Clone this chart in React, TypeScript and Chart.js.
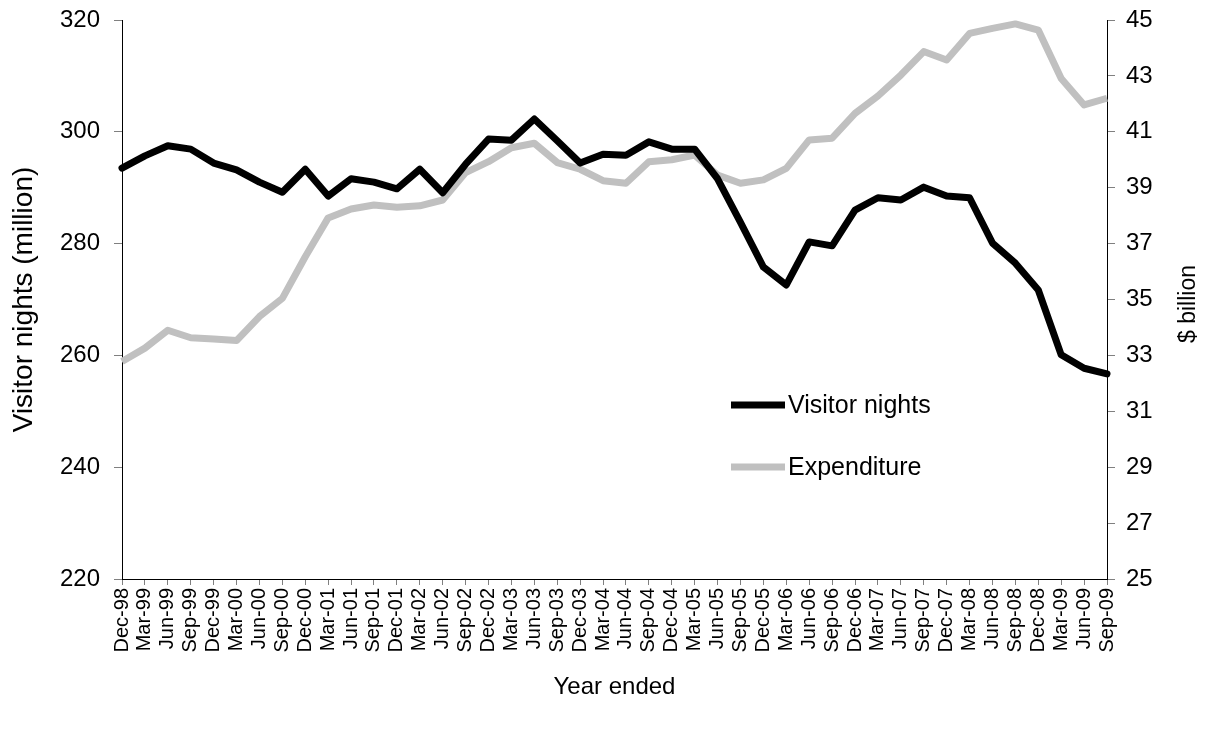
import React, { useEffect, useRef } from "react";
import { Chart, registerables } from "chart.js";

Chart.register(...registerables);

const FONT = "'Liberation Sans', Arial, sans-serif";

const categories = [
  "Dec-98", "Mar-99", "Jun-99", "Sep-99", "Dec-99", "Mar-00", "Jun-00", "Sep-00",
  "Dec-00", "Mar-01", "Jun-01", "Sep-01", "Dec-01", "Mar-02", "Jun-02", "Sep-02",
  "Dec-02", "Mar-03", "Jun-03", "Sep-03", "Dec-03", "Mar-04", "Jun-04", "Sep-04",
  "Dec-04", "Mar-05", "Jun-05", "Sep-05", "Dec-05", "Mar-06", "Jun-06", "Sep-06",
  "Dec-06", "Mar-07", "Jun-07", "Sep-07", "Dec-07", "Mar-08", "Jun-08", "Sep-08",
  "Dec-08", "Mar-09", "Jun-09", "Sep-09",
];

const visitorNights = [
  293.5, 295.7, 297.5, 296.9, 294.4, 293.2, 291.0, 289.2, 293.3, 288.5,
  291.6, 291.0, 289.8, 293.3, 289.1, 294.2, 298.7, 298.5, 302.3, 298.4,
  294.4, 296.0, 295.8, 298.2, 296.9, 296.9, 291.6, 283.8, 275.8, 272.6,
  280.3, 279.6, 286.0, 288.2, 287.8, 290.1, 288.5, 288.2, 280.1, 276.5,
  271.7, 260.1, 257.7, 256.7,
];

const expenditure = [
  32.78, 33.26, 33.9, 33.63, 33.59, 33.53, 34.39, 35.04, 36.53, 37.92,
  38.24, 38.38, 38.3, 38.35, 38.56, 39.54, 39.93, 40.43, 40.59, 39.9,
  39.66, 39.25, 39.16, 39.93, 40.0, 40.17, 39.45, 39.16, 39.28, 39.69,
  40.71, 40.77, 41.66, 42.28, 43.03, 43.87, 43.57, 44.52, 44.7, 44.86,
  44.64, 42.91, 41.96, 42.2,
];

const seriesNames = ["Visitor nights", "Expenditure"];
const seriesColors = ["#000000", "#C0C0C0"];
const leftRange = [220, 320, 20];
const rightRange = [25, 45, 2];
const xTitle = "Year ended";
const leftTitle = "Visitor nights (million)";
const rightTitle = "$ billion";

const overlayPlugin = {
  id: "overlay",
  afterDraw(chart: any) {
    const { ctx, chartArea } = chart;
    ctx.save();
    // right axis title (reads bottom-to-top)
    ctx.font = `23px ${FONT}`;
    ctx.fillStyle = "#000";
    ctx.textAlign = "center";
    ctx.textBaseline = "middle";
    ctx.save();
    ctx.translate(chart.width - 14, chartArea.top + 284);
    ctx.rotate(-Math.PI / 2);
    ctx.fillText(rightTitle, 0, 0);
    ctx.restore();

    // legend inside the plot
    const lx = chartArea.left + 609;
    const ly = chartArea.top + 385;
    const gap = 62;
    chart.data.datasets.forEach((ds: any, i: number) => {
      const y = ly + i * gap;
      ctx.strokeStyle = ds.borderColor;
      ctx.lineWidth = ds.borderWidth;
      ctx.lineCap = "butt";
      ctx.beginPath();
      ctx.moveTo(lx, y);
      ctx.lineTo(lx + 54, y);
      ctx.stroke();
      ctx.font = `25px ${FONT}`;
      ctx.fillStyle = "#000";
      ctx.textAlign = "left";
      ctx.textBaseline = "middle";
      ctx.fillText(ds.label, lx + 57, y + 1);
    });
    ctx.restore();
  },
};

export default function App() {
  const ref = useRef<HTMLCanvasElement | null>(null);

  useEffect(() => {
    if (!ref.current) return;
    const tickFont = { family: FONT, size: 24 };
    const fitY = (w: number) => (s: any) => {
      s.width = w;
      s.paddingTop = 0;
      s.paddingBottom = 0;
    };
    const chart = new Chart(ref.current, {
      type: "line",
      data: {
        labels: categories,
        datasets: [
          {
            label: seriesNames[0],
            data: visitorNights,
            yAxisID: "y",
            borderColor: seriesColors[0],
            backgroundColor: seriesColors[0],
            borderWidth: 7,
            pointRadius: 0,
            tension: 0,
            borderJoinStyle: "round",
            borderCapStyle: "round",
            clip: false as any,
          },
          {
            label: seriesNames[1],
            data: expenditure,
            yAxisID: "y1",
            borderColor: seriesColors[1],
            backgroundColor: seriesColors[1],
            borderWidth: 7,
            pointRadius: 0,
            tension: 0,
            borderJoinStyle: "round",
            borderCapStyle: "butt",
            clip: false as any,
          },
        ],
      },
      options: {
        animation: false,
        responsive: true,
        maintainAspectRatio: false,
        layout: {
          autoPadding: false,
          padding: { top: 12, left: 0, right: 0, bottom: 0 },
        },
        plugins: {
          legend: { display: false },
          tooltip: { enabled: false },
        },
        scales: {
          x: {
            type: "category",
            offset: false,
            grid: {
              display: true,
              drawOnChartArea: false,
              drawTicks: true,
              tickLength: 6,
              tickColor: "#808080",
            },
            border: { display: true, color: "#000", width: 1 },
            ticks: {
              autoSkip: false,
              maxRotation: 90,
              minRotation: 90,
              padding: 3,
              color: "#000",
              font: { family: FONT, size: 20 },
            },
            title: {
              display: true,
              text: xTitle,
              color: "#000",
              font: { family: FONT, size: 24 },
              padding: { top: 0, bottom: 19 },
            },
            afterFit: (s: any) => {
              s.height = 142;
              s.paddingLeft = 0;
              s.paddingRight = 0;
            },
          },
          y: {
            position: "left",
            min: leftRange[0],
            max: leftRange[1],
            grid: {
              display: true,
              drawOnChartArea: false,
              drawTicks: true,
              tickLength: 8,
              tickColor: "#808080",
            },
            border: { display: true, color: "#000", width: 1 },
            ticks: {
              stepSize: leftRange[2],
              padding: 14,
              color: "#000",
              font: tickFont,
            },
            title: {
              display: true,
              text: leftTitle,
              color: "#000",
              font: { family: FONT, size: 28 },
              padding: { top: -1, bottom: 0 },
            },
            afterFit: fitY(114),
          },
          y1: {
            position: "right",
            min: rightRange[0],
            max: rightRange[1],
            grid: {
              display: true,
              drawOnChartArea: false,
              drawTicks: true,
              tickLength: 8,
              tickColor: "#808080",
            },
            border: { display: true, color: "#000", width: 1 },
            ticks: {
              stepSize: rightRange[2],
              padding: 11,
              color: "#000",
              font: tickFont,
            },
            afterFit: fitY(96),
          },
        },
      },
      plugins: [overlayPlugin],
    });
    return () => chart.destroy();
  }, []);

  return (
    <div style={{ position: "relative", width: 1195, height: 713 }}>
      <canvas ref={ref} />
    </div>
  );
}
